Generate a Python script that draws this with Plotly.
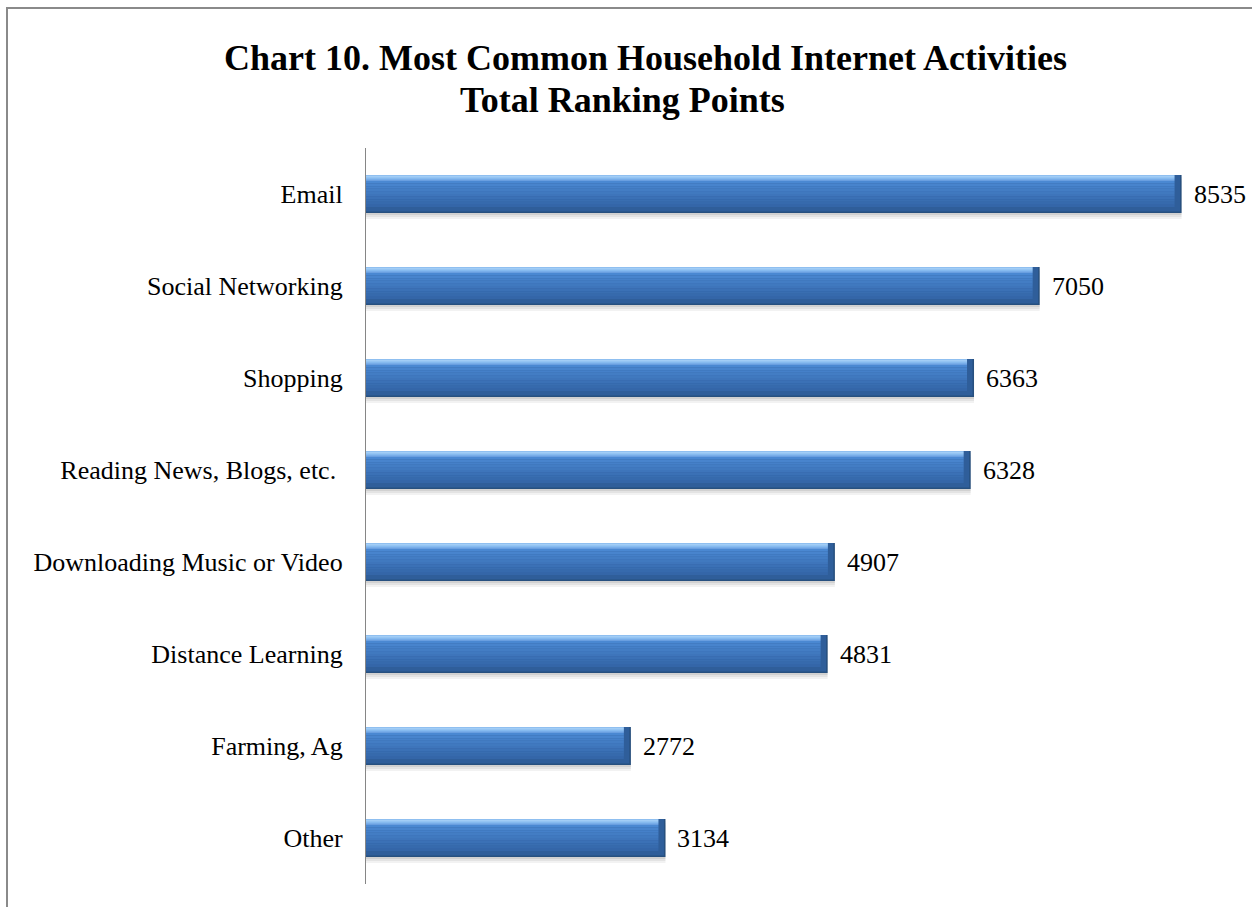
import plotly.graph_objects as go

# ---- data -------------------------------------------------------------
categories = [
    "Email",
    "Social Networking",
    "Shopping",
    "Reading News, Blogs, etc. ",
    "Downloading Music or Video",
    "Distance Learning",
    "Farming, Ag",
    "Other",
]
points = [8535, 7050, 6363, 6328, 4907, 4831, 2772, 3134]

title_line1 = "Chart 10. Most Common Household Internet Activities"
title_line2 = "Total Ranking Points"

# ---- layout geometry (pixels) ------------------------------------------
W, H = 1252, 907
PL, PR, PT, PB = 366, 1226, 148, 884          # plot area edges
X_MAX = 9000
px_per_unit = (PR - PL) / X_MAX
px_per_cat = (PB - PT) / len(categories)


def xp(px):
    return (px - PL) / (PR - PL)


def yp(py):
    return (PB - py) / (PB - PT)


def mix(c1, c2, t):
    a = [int(c1[i:i + 2], 16) for i in (1, 3, 5)]
    b = [int(c2[i:i + 2], 16) for i in (1, 3, 5)]
    return "#" + "".join(f"{round(x + (y - x) * t):02x}" for x, y in zip(a, b))


# bar thickness and bevel sizes in axis units
bar_w = 38 / px_per_cat
half = bar_w / 2
bev_c = 6 / px_per_cat          # vertical bevel (category units)
bev_x = 7 / px_per_unit         # horizontal bevel (value units)

# Email on top: category axis runs bottom -> top
order = categories[::-1]

fig = go.Figure()


def bar_layer(x, base, offset, width, color):
    fig.add_trace(go.Bar(
        y=categories, x=x, base=base, orientation="h",
        offset=offset, width=width,
        marker=dict(color=color, line=dict(width=0)),
        hoverinfo="skip", showlegend=False,
    ))


n = len(points)
zeros = [0] * n
# soft drop shadow under each bar
bar_layer(points, zeros, -half - 6 / px_per_cat, bar_w, "rgba(0,0,0,0.05)")
bar_layer(points, zeros, -half - 4 / px_per_cat, bar_w, "rgba(0,0,0,0.06)")
bar_layer(points, zeros, -half - 2 / px_per_cat, bar_w, "rgba(0,0,0,0.08)")
# dark bevel (bottom and right edges)
bar_layer(points, zeros, -half, bar_w, "#27507f")
bar_layer([v - 1.5 / px_per_unit for v in points], zeros,
          -half + 1.5 / px_per_cat, bar_w - 1.5 / px_per_cat, "#2f5e9a")
# light bevel along the top edge
hl_x = [v - bev_x for v in points]
hl_steps = ["#6a9fe0", "#78ade9", "#86baef", "#94c4f3", "#a2cdf6", "#8fbff0"]
for i, col in enumerate(hl_steps):
    bar_layer(hl_x, zeros, half - bev_c + i * bev_c / len(hl_steps),
              bev_c / len(hl_steps), col)
# face with a smooth top-to-bottom shading
face_x = [v - bev_x for v in points]
face_h = bar_w - 2 * bev_c
steps = 10
strip = face_h / steps
for i in range(steps):
    col = mix("#3466a8", "#4a88d2", i / (steps - 1))
    bar_layer(face_x, zeros, -half + bev_c + i * strip, strip * 1.02, col)

label_font = dict(family="Liberation Serif, Times New Roman, serif",
                  size=26, color="#000000")

annotations = []
for cat, v in zip(categories, points):
    annotations.append(dict(
        x=v, y=cat, xref="x", yref="y", text=str(v),
        showarrow=False, xanchor="left", yanchor="middle", xshift=10,
        font=label_font,
    ))

title_font = dict(family="Liberation Serif, Times New Roman, serif",
                  size=36, color="#000000")
annotations.append(dict(
    x=xp(645), y=yp(80), xref="paper", yref="paper", text=f"<b>{title_line1}</b>",
    showarrow=False, xanchor="center", yanchor="bottom", font=title_font,
))
annotations.append(dict(
    x=xp(622), y=yp(122), xref="paper", yref="paper", text=f"<b>{title_line2}</b>",
    showarrow=False, xanchor="center", yanchor="bottom", font=title_font,
))

fig.update_layout(
    width=W, height=H,
    margin=dict(l=PL, r=W - PR, t=PT, b=H - PB, pad=0),
    paper_bgcolor="white", plot_bgcolor="white",
    barmode="overlay",
    xaxis=dict(range=[0, X_MAX], visible=False, fixedrange=True),
    yaxis=dict(
        type="category", categoryorder="array", categoryarray=order,
        range=[-0.5, len(categories) - 0.5],
        showline=True, linecolor="#868686", linewidth=1.3,
        ticks="", showgrid=False, zeroline=False,
        tickfont=label_font, ticklabelstandoff=17, fixedrange=True,
    ),
    annotations=annotations,
    shapes=[dict(
        type="rect", xref="paper", yref="paper",
        x0=xp(7), x1=xp(W + 20), y0=yp(H + 20), y1=yp(8),
        line=dict(color="#8a8a8a", width=2), fillcolor="rgba(0,0,0,0)",
        layer="below",
    )],
)

fig.write_html("out.html", config={"displayModeBar": False})
